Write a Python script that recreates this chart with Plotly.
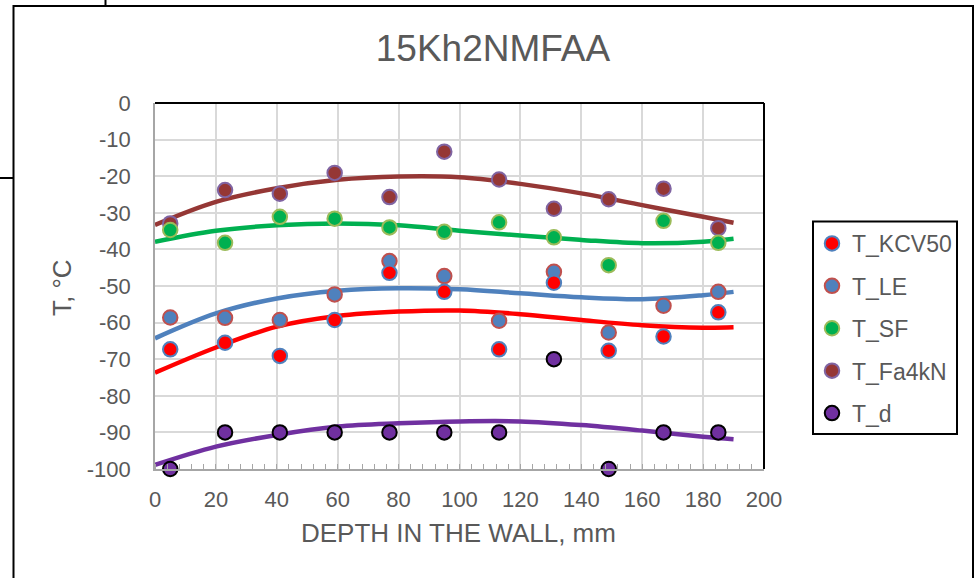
import plotly.graph_objects as go

# ---------------- data ----------------
depth = [5, 23, 41, 59, 77, 95, 113, 131, 149, 167, 185]

T_KCV50 = [-67.3, -65.5, -69.1, -59.3, -46.4, -51.6, -67.3, -49.1, -67.7, -63.8, -57.2]
T_LE = [-58.6, -58.7, -59.3, -52.3, -43.2, -47.3, -59.5, -46.1, -62.7, -55.4, -51.6]
T_SF = [-34.7, -38.2, -31.1, -31.6, -34.0, -35.2, -32.6, -36.7, -44.3, -32.2, -38.2]
T_Fa4kN = [-32.9, -23.8, -24.8, -19.1, -25.7, -13.3, -20.9, -28.9, -26.3, -23.4, -34.2]
T_d = [-100, -90, -90, -90, -90, -90, -90, -70, -100, -90, -90]

# trend lines
trend_x = [0, 20, 40, 60, 80, 100, 120, 140, 160, 180, 190]
trend_KCV50 = [-73.7, -66.8, -61.1, -58.2, -57.0, -56.7, -57.7, -59.3, -60.7, -61.4, -61.3]
trend_LE = [-64.3, -57.5, -53.4, -51.3, -50.6, -50.9, -52.0, -53.1, -53.6, -52.5, -51.6]
trend_SF = [-37.9, -34.9, -33.4, -32.9, -33.4, -34.9, -36.2, -37.4, -38.3, -37.9, -37.1]
trend_Fa4kN = [-33.3, -27.0, -23.3, -21.0, -20.1, -20.3, -22.1, -24.7, -27.9, -31.1, -32.7]
trend_d = [-98.9, -93.9, -90.7, -88.4, -87.5, -87.0, -87.0, -88.0, -89.5, -91.2, -91.9]

x_ticks = [0, 20, 40, 60, 80, 100, 120, 140, 160, 180, 200]
y_ticks = [0, -10, -20, -30, -40, -50, -60, -70, -80, -90, -100]

title_text = "15Kh2NMFAA"
x_title = "DEPTH IN THE WALL, mm"
y_title = "T, °C"

# ---------------- styling ----------------
FONT = "Arial, Liberation Sans, sans-serif"
TXT = "#595959"
W, H = 977, 578
ML, MR, MT, MB = 155, 213, 103, 109
PW, PH = W - ML - MR, H - MT - MB


def px(xp):
    return (xp - ML) / PW


def py(yp):
    return (H - MB - yp) / PH


series = [
    # name, values, trend, fill, outline, line color, rank
    ("T_KCV50", T_KCV50, trend_KCV50, "#FF0000", "#4F81BD", "#FF0000", 1),
    ("T_LE", T_LE, trend_LE, "#4F81BD", "#C0504D", "#4F81BD", 2),
    ("T_SF", T_SF, trend_SF, "#00B050", "#9BBB59", "#00B050", 3),
    ("T_Fa4kN", T_Fa4kN, trend_Fa4kN, "#953735", "#8064A2", "#953735", 4),
    ("T_d", T_d, trend_d, "#7030A0", "#000000", "#7030A0", 5),
]

fig = go.Figure()

for name, vals, tr, fill, outl, lc, rank in series:
    fig.add_trace(go.Scatter(
        x=trend_x, y=tr, mode="lines", line=dict(color=lc, width=4.5, shape="spline", smoothing=1.0),
        showlegend=False, hoverinfo="skip"))

draw_order = ["T_LE", "T_KCV50", "T_Fa4kN", "T_SF", "T_d"]
lookup = {s[0]: s for s in series}
for nm in draw_order:
    name, vals, tr, fill, outl, lc, rank = lookup[nm]
    fig.add_trace(go.Scatter(
        x=depth, y=vals, mode="markers", name=name, legendgroup=name, legendrank=rank,
        marker=dict(size=14.5, color=fill, line=dict(color=outl, width=2)),
        cliponaxis=False))

shapes = [
    # outer frame
    dict(type="rect", xref="paper", yref="paper", x0=px(13.5), x1=px(973), y0=py(600), y1=py(6),
         line=dict(color="black", width=2), fillcolor="rgba(0,0,0,0)", layer="below"),
    dict(type="line", xref="paper", yref="paper", x0=px(105.5), x1=px(105.5), y0=py(-2), y1=py(6),
         line=dict(color="black", width=2)),
    dict(type="line", xref="paper", yref="paper", x0=px(-2), x1=px(13.5), y0=py(178), y1=py(178),
         line=dict(color="black", width=2)),
    # plot area top/right black borders
    dict(type="line", xref="paper", yref="paper", x0=0, x1=1, y0=1, y1=1,
         line=dict(color="black", width=2)),
    dict(type="line", xref="paper", yref="paper", x0=1, x1=1, y0=0, y1=1,
         line=dict(color="black", width=2)),
    # legend box
    dict(type="rect", xref="paper", yref="paper", x0=px(813), x1=px(957), y0=py(434), y1=py(221.5),
         line=dict(color="black", width=2), fillcolor="rgba(0,0,0,0)"),
]

annotations = [
    dict(text=x_title, xref="paper", yref="paper", x=px(458.5), y=py(533), showarrow=False,
         xanchor="center", yanchor="middle", font=dict(family=FONT, size=26, color=TXT)),
    dict(text=y_title, xref="paper", yref="paper", x=px(62), y=py(288), showarrow=False,
         textangle=-90, xanchor="center", yanchor="middle", font=dict(family=FONT, size=26, color=TXT)),
]

fig.update_layout(
    width=W, height=H,
    margin=dict(l=ML, r=MR, t=MT, b=MB, autoexpand=False),
    paper_bgcolor="white", plot_bgcolor="white",
    font=dict(family=FONT, color=TXT, size=22),
    title=dict(text=title_text, x=493 / W, xref="container", xanchor="center",
               y=1 - 48 / H, yref="container", yanchor="middle",
               font=dict(family=FONT, size=37, color=TXT)),
    xaxis=dict(range=[0, 200], tickvals=x_ticks, ticktext=[str(v) for v in x_ticks],
               showgrid=True, gridcolor="#D9D9D9", gridwidth=1.5,
               showline=True, linecolor="#A6A6A6", linewidth=1.5,
               ticks="", ticklabelstandoff=10, zeroline=False,
               tickfont=dict(family=FONT, size=22, color=TXT),
               minor=dict(ticks="inside", dtick=4, tick0=0, ticklen=5, tickcolor="#A6A6A6", tickwidth=1,
                          showgrid=False)),
    yaxis=dict(range=[-100, 0], tickvals=y_ticks, ticktext=[str(v) for v in y_ticks],
               showgrid=True, gridcolor="#D9D9D9", gridwidth=1.5,
               showline=True, linecolor="#A6A6A6", linewidth=1.5,
               ticks="", ticklabelstandoff=18, zeroline=False,
               tickfont=dict(family=FONT, size=22, color=TXT)),
    legend=dict(x=px(812), y=py(222), xanchor="left", yanchor="top",
                bgcolor="rgba(0,0,0,0)", borderwidth=0,
                font=dict(family=FONT, size=23, color=TXT),
                traceorder="grouped", tracegroupgap=9.5, itemwidth=30),
    shapes=shapes,
    annotations=annotations,
    showlegend=True,
)

fig.write_html("out.html",
               config={"displayModeBar": False},
               post_script="document.body.style.margin='0';document.body.style.padding='0';"
                           "document.body.style.overflow='hidden';")
